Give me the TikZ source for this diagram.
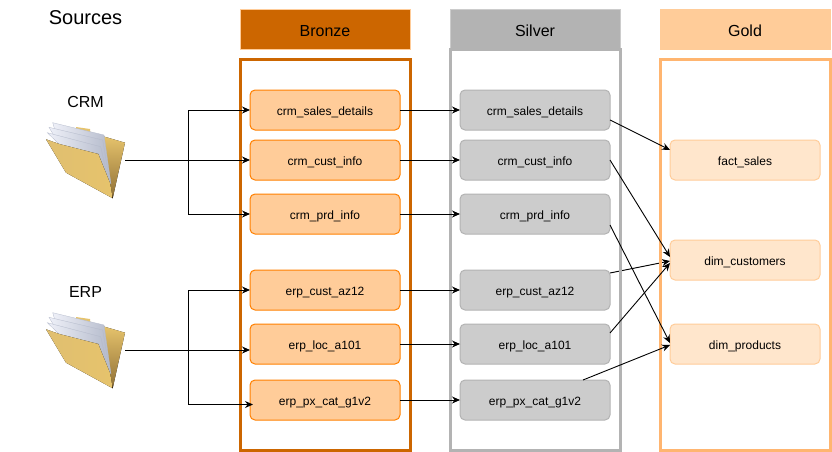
\documentclass[tikz,border=0pt]{standalone}
\usepackage{fontspec}
\setmainfont{Liberation Sans}
\usepackage{xcolor}
\usetikzlibrary{arrows.meta,positioning,shadings}

\definecolor{bronzedark}{HTML}{CC6600}
\definecolor{bronzefill}{HTML}{FFCC99}
\definecolor{bronzeline}{HTML}{FF8000}
\definecolor{silverdark}{HTML}{B3B3B3}
\definecolor{silverfill}{HTML}{CCCCCC}
\definecolor{golddark}{HTML}{FFB570}
\definecolor{goldfill}{HTML}{FFE6CC}
\definecolor{goldhead}{HTML}{FFCC99}
\definecolor{foldertan}{HTML}{E6C36C}
\definecolor{folderlight}{HTML}{E0BF70}
\definecolor{folderdark}{HTML}{8F6F35}
\definecolor{sheetlight}{HTML}{EEF0F8}
\definecolor{sheetdark}{HTML}{B4BACB}

\tikzset{
    sheet/.style={left color=sheetlight, middle color=sheetlight, right color=sheetdark, draw=sheetdark, line width=0.3pt},
    folder/.pic={
        \fill[top color=foldertan, middle color=foldertan, bottom color=folderdark] (56,14) -- (79,20.7) -- (66.7,76.3) -- (50,40) -- cycle;
        \fill[foldertan] (30,5) -- (44,7) -- (44.5,12) -- (30,10) -- cycle;
        \path[sheet] (6.7,0.7) -- (58,13) -- (65,62) -- (13,22) -- cycle;
        \path[sheet] (3,5.3) -- (56.7,18) -- (64,62) -- (13,22) -- cycle;
        \path[sheet] (1.3,10.7) -- (54.7,24.7) -- (63,62) -- (13,22) -- cycle;
        \fill[left color=folderlight, right color=foldertan] (0,17.3) -- (13.3,22) -- (52.3,32) -- (64,61) -- (66.7,76.3) -- (20,50.7) -- cycle;
    }
}

\begin{document}
\begin{tikzpicture}[x=1pt, y=-1pt, node distance=10pt, font=\fontsize{12}{14}\selectfont,
    header/.style={rectangle, outer sep=0pt, line width=1pt, minimum width=170pt, minimum height=40pt, inner sep=0pt, text height=12.5pt, text depth=0pt, font=\fontsize{16}{19}\selectfont},
    layer/.style={rectangle, line width=3pt},
    bronzebox/.style={rectangle, outer sep=0pt, line width=1pt, rounded corners=5pt, draw=bronzeline, fill=bronzefill, minimum width=150pt, minimum height=40pt, inner sep=0pt, text height=10pt, text depth=0pt},
    silverbox/.style={bronzebox, draw=silverdark, fill=silverfill},
    goldbox/.style={bronzebox, draw=goldhead, fill=goldfill},
    label/.style={font=\fontsize{16}{19}\selectfont},
    arrow/.style={-{Stealth[length=8pt,width=7pt]}, line width=0.9pt}]

    \useasboundingbox (0,0) rectangle (832,452);

    \node[anchor=center, font=\fontsize{20}{23}\selectfont] (sources) at (85.5,18) {Sources};
    \node[label] (crm) at (85.5,101.5) {CRM};
    \node[label] (erp) at (85.5,291.5) {ERP};
    \pic at (46,122) {folder};
    \pic at (46,312) {folder};
    \coordinate (crm_out) at (125,160);
    \coordinate (crm_trunk) at (188,160);
    \coordinate (erp_out) at (125,350);
    \coordinate (erp_trunk) at (188,350);

    \node[header, draw=bronzefill, fill=bronzedark] (bronze) at (325,30) {Bronze};
    \node[header, draw=silverfill, fill=silverdark, right=40pt of bronze] (silver) {Silver};
    \node[header, draw=goldhead, fill=goldhead, right=40pt of silver] (gold) {Gold};

    \node[bronzebox] (crm_sales) at (325,110) {crm\_sales\_details};
    \node[bronzebox, below=10pt of crm_sales] (crm_cust) {crm\_cust\_info};
    \node[bronzebox, below=14pt of crm_cust] (crm_prd) {crm\_prd\_info};
    \node[bronzebox, below=36pt of crm_prd] (erp_cust) {erp\_cust\_az12};
    \node[bronzebox, below=14pt of erp_cust] (erp_loc) {erp\_loc\_a101};
    \node[bronzebox, below=16pt of erp_loc] (erp_cat) {erp\_px\_cat\_g1v2};

    \node[silverbox, right=60pt of crm_sales] (s_sales) {crm\_sales\_details};
    \node[silverbox, right=60pt of crm_cust] (s_cust) {crm\_cust\_info};
    \node[silverbox, right=60pt of crm_prd] (s_prd) {crm\_prd\_info};
    \node[silverbox, right=60pt of erp_cust] (s_az12) {erp\_cust\_az12};
    \node[silverbox, right=60pt of erp_loc] (s_loc) {erp\_loc\_a101};
    \node[silverbox, right=60pt of erp_cat] (s_cat) {erp\_px\_cat\_g1v2};

    \node[goldbox, right=60pt of s_cust] (fact) {fact\_sales};
    \node[goldbox, below=60pt of fact] (dim_cust) {dim\_customers};
    \node[goldbox, right=60pt of s_loc] (dim_prod) {dim\_products};

    % this one runs under the silver frame
    \draw[arrow] ([yshift=17pt]s_az12.east) -- ([yshift=-1pt]dim_cust.west);

    \draw[layer, draw=bronzedark] (240,60) rectangle (410,450);
    \draw[layer, draw=silverdark] (450,50) rectangle (620,450);
    \draw[layer, draw=golddark] (660,60) rectangle (830,450);

    \draw[arrow] (crm_out) -- (crm_cust.west);
    \draw[arrow] (crm_trunk) |- (crm_sales.west);
    \draw[arrow] (crm_trunk) |- (crm_prd.west);
    \draw[arrow] (erp_out) -- (erp_out -| erp_loc.west);
    \draw[arrow] (erp_trunk) |- (erp_cust.west);
    \draw[arrow] (erp_trunk) |- ([xshift=3pt,yshift=-4.5pt]erp_cat.west);

    \draw[arrow] (crm_sales) -- (s_sales);
    \draw[arrow] (crm_cust) -- (s_cust);
    \draw[arrow] (crm_prd) -- (s_prd);
    \draw[arrow] (erp_cust) -- (s_az12);
    \draw[arrow] (erp_loc) -- (s_loc);
    \draw[arrow] (erp_cat) -- (s_cat);

    \draw[arrow] ([yshift=-10pt]s_sales.east) -- ([yshift=10pt]fact.west);
    \draw[arrow] (s_cust.east) -- ([yshift=3pt]dim_cust.west);
    \draw[arrow] ([yshift=-11pt]s_prd.east) -- ([yshift=1pt]dim_prod.west);
    \draw[arrow] ([yshift=11pt]s_loc.east) -- ([yshift=-3pt]dim_cust.west);
    \draw[arrow] ([xshift=-27pt]s_cat.north east) -- ([yshift=-1pt]dim_prod.west);
\end{tikzpicture}
\end{document}
